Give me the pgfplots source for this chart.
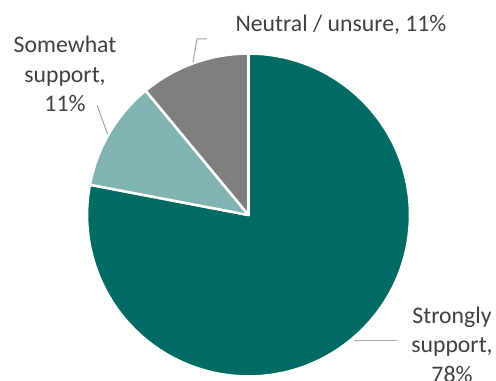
\documentclass[border=0pt]{standalone}
\usepackage{pgfplots}
\pgfplotsset{compat=1.18}
\usepackage{pgfplotstable}
\usepackage{fontspec}
\setmainfont{Carlito}
\definecolor{cStrong}{HTML}{006B63}
\definecolor{cSome}{HTML}{7FB4B0}
\definecolor{cNeut}{HTML}{7F7F7F}
\definecolor{cText}{HTML}{404040}
\definecolor{cLead}{HTML}{A6A6A6}

\pgfplotstableread{
label value
Strongly 78
Somewhat 11
Neutral 11
}\piedata
\pgfplotstablegetelem{0}{value}\of\piedata \let\vA\pgfplotsretval
\pgfplotstablegetelem{1}{value}\of\piedata \let\vB\pgfplotsretval
\pgfplotstablegetelem{2}{value}\of\piedata \let\vC\pgfplotsretval
\pgfmathsetmacro\aA{90-3.6*\vA}
\pgfmathsetmacro\aB{\aA-3.6*\vB}
\pgfmathsetmacro\aC{\aB-3.6*\vC}
\def\R{121.1pt}
\def\lbl{\fontsize{17.8pt}{22.3pt}\selectfont\color{cText}}

\begin{document}
\begin{tikzpicture}
\begin{axis}[name=ax, width=372pt, height=285.75pt, scale only axis, hide axis,
  xmin=0, xmax=496, ymin=0, ymax=381, clip=false]
\fill[cStrong, draw=white, line width=1.9pt, line join=round] (axis cs:248.5,166) -- ++(90:\R) arc[start angle=90, end angle=\aA, radius=\R] -- cycle;
\fill[cSome, draw=white, line width=1.9pt, line join=round] (axis cs:248.5,166) -- ++(\aA:\R) arc[start angle=\aA, end angle=\aB, radius=\R] -- cycle;
\fill[cNeut, draw=white, line width=1.9pt, line join=round] (axis cs:248.5,166) -- ++(\aB:\R) arc[start angle=\aB, end angle=\aC, radius=\R] -- cycle;
% leader lines
\draw[cLead, line width=0.75pt] (axis cs:193,319) -- (axis cs:197,342) -- (axis cs:207,342);
\draw[cLead, line width=0.75pt] (axis cs:97,276) -- (axis cs:107.5,247);
\draw[cLead, line width=0.75pt] (axis cs:354,40) -- (axis cs:397,40);
% labels
\node[anchor=base, inner sep=0pt, font=\lbl] at (axis cs:341,349.5) {Neutral / unsure, 11\%};
\node[anchor=base, inner sep=0pt, font=\lbl] at (axis cs:65,328) {Somewhat};
\node[anchor=base, inner sep=0pt, font=\lbl] at (axis cs:65,298) {support,};
\node[anchor=base, inner sep=0pt, font=\lbl] at (axis cs:65,269) {11\%};
\node[anchor=base, inner sep=0pt, font=\lbl] at (axis cs:452,57) {Strongly};
\node[anchor=base, inner sep=0pt, font=\lbl] at (axis cs:452,28) {support,};
\node[anchor=base, inner sep=0pt, font=\lbl] at (axis cs:452,-2) {78\%};
\end{axis}
\pgfresetboundingbox
\useasboundingbox (ax.south west) rectangle (ax.north east);
\end{tikzpicture}
\end{document}
